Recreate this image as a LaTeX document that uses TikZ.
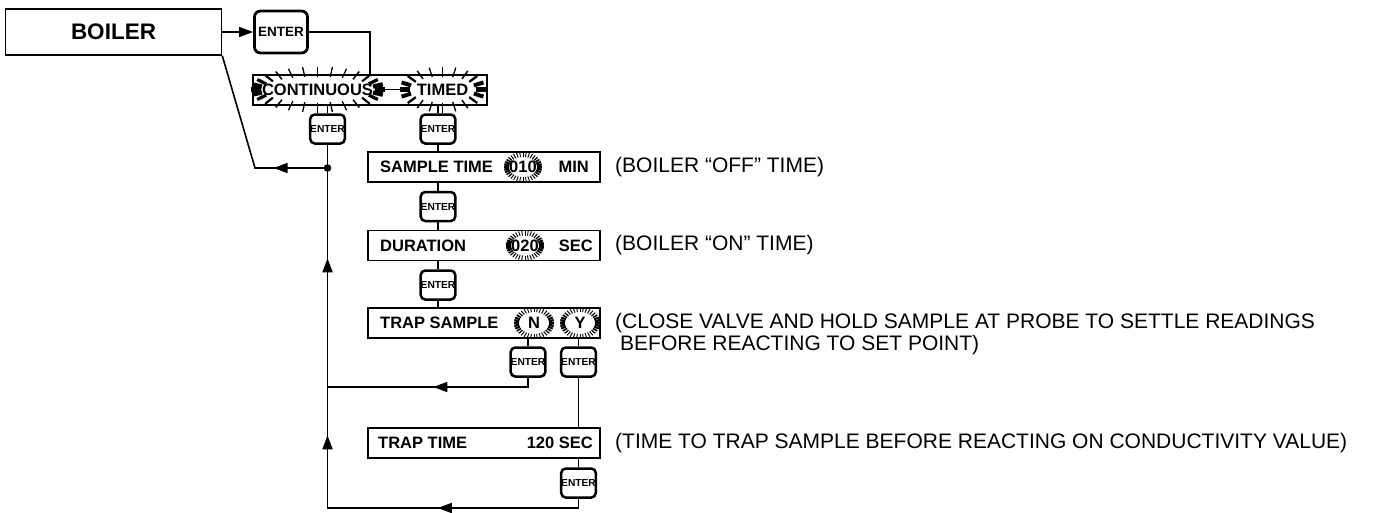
\documentclass[tikz,border=0pt]{standalone}
\usepackage{fontspec}
\setmainfont{Liberation Sans}
\usetikzlibrary{arrows.meta,calc,decorations.markings}
\newcommand{\flash}[7]{%
  \foreach \k in {1,...,#5}{%
    \pgfmathsetmacro{\flashang}{360*\k/#5}%
    \pgfmathsetmacro{\flashwd}{#7+#6*abs(cos(\flashang))^6}%
    \draw[line width=\flashwd pt] ($(#1)+({#2*cos(\flashang)},{#3*sin(\flashang)})$) -- ($(#1)+({(#2+#4)*cos(\flashang)},{(#3+#4)*sin(\flashang)})$);
  }}
\tikzset{
  lbl/.style={font=\fontsize{16.5}{18}\selectfont\bfseries, inner sep=0pt},
  note/.style={font=\fontsize{21}{22}\selectfont, inner sep=0pt, anchor=west},
  dispbox/.style={draw, line width=1.6pt, minimum width=232pt, minimum height=30pt, inner sep=0pt},
  bigenter/.style={draw, line width=2.8pt, rounded corners=6pt, minimum width=53pt, minimum height=42pt, font=\fontsize{13.5}{14}\selectfont\bfseries, inner sep=0pt},
  smallenter/.style={draw, line width=2.5pt, rounded corners=4.5pt, minimum width=33pt, minimum height=29pt, font=\fontsize{10.2}{11}\selectfont\bfseries, inner sep=0pt},
  wire/.style={line width=1.6pt},
  tip/.style={-{Triangle[length=14pt,width=10pt]}},
  arrowat/.style={postaction={decorate, decoration={markings, mark=at position #1 with {\arrow{Triangle[length=14pt,width=10pt]}}}}}
}
\begin{document}
\begin{tikzpicture}[x=1pt,y=-1pt]
\useasboundingbox (0,0) rectangle (1375,512);

% top row
\node[draw, line width=1.6pt, minimum width=216pt, minimum height=46pt, inner sep=0pt, font=\fontsize{22.5}{24}\selectfont\bfseries] (boiler) at (113.5,32) {BOILER};
\node[bigenter] (enter0) at (281,32) {ENTER};
\draw[wire, tip] (boiler.east) -- (enter0.west);

% selection bar
\node[draw, line width=1.5pt, minimum width=234pt, minimum height=30pt, inner sep=0pt] (bar) at (370,90) {};
\coordinate (barin) at (370,75);
\draw[wire] (enter0.east) -| (barin);
\node[lbl] (cont) at (317.5,89.5) {CONTINUOUS};
\node[lbl] (timed) at (442.5,89.5) {TIMED};
\flash{cont}{57}{13}{10}{28}{3.6}{1.3}
\flash{timed}{33}{13}{10}{20}{3.6}{1.3}
\draw[wire] ($(cont)+(67,0)$) -- ($(timed)+(-43,0)$);

% enter keys under bar
\node[smallenter] (en1) at (327.5,129) {ENTER};
\node[smallenter] (en2) at (438,129) {ENTER};
\draw[wire] (en1.north) -- (en1.north |- bar.south);
\draw[wire] (en2.north) -- (en2.north |- bar.south);

% sample time
\node[dispbox] (st) at (484,167) {};
\node[lbl, anchor=west] (stl) at (380,167) {SAMPLE TIME};
\node[lbl] (v010) at (523,167) {010};
\flash{v010}{14}{10}{5}{36}{1.6}{0.9}
\node[lbl, anchor=east] (stu) at (589,167) {MIN};
\draw[wire] (en2.south) -- (en2.south |- st.north);

\node[smallenter] (en3) at (438,206.5) {ENTER};
\draw[wire] (en3.north) -- (en3.north |- st.south);

% duration
\node[dispbox] (du) at (484,245.5) {};
\node[lbl, anchor=west] (dul) at (380,245.5) {DURATION};
\node[lbl] (v020) at (525,245.5) {020};
\flash{v020}{14}{10}{5}{36}{1.6}{0.9}
\node[lbl, anchor=east] (duu) at (593,245.5) {SEC};
\draw[wire] (en3.south) -- (en3.south |- du.north);

\node[smallenter] (en4) at (438,285) {ENTER};
\draw[wire] (en4.north) -- (en4.north |- du.south);

% trap sample
\node[dispbox] (ts) at (484,323) {};
\node[lbl, anchor=west] (tsl) at (380,323) {TRAP SAMPLE};
\node[lbl] (vn) at (534,323) {N};
\node[lbl] (vy) at (580,323) {Y};
\flash{vn}{15}{11}{5}{36}{1.6}{0.9}
\flash{vy}{15}{11}{5}{36}{1.6}{0.9}
\draw[wire] (en4.south) -- (en4.south |- ts.north);

\node[smallenter] (en5) at (528,362) {ENTER};
\node[smallenter] (en6) at (578.5,362) {ENTER};
\draw[wire] (en5.north) -- (en5.north |- ts.south);
\draw[wire] (en6.north) -- (en6.north |- ts.south);

% trap time
\node[dispbox] (tt) at (484,443) {};
\node[lbl, anchor=west] (ttl) at (378,443) {TRAP TIME};
\node[lbl, anchor=east] (ttu) at (593,443) {120 SEC};
\draw[wire] (en6.south) -- (en6.south |- tt.north);

\node[smallenter] (en7) at (578.5,483) {ENTER};
\draw[wire] (en7.north) -- (en7.north |- tt.south);

% return lines
\coordinate (jn) at (327.5,168);
\coordinate (lb) at (255,168);
\coordinate (nb) at (528,387);
\coordinate (nl) at (327.5,387);
\coordinate (bb) at (578.5,508);
\coordinate (bl) at (327.5,508);
\draw[wire] (en1.south) -- (jn);
\fill (jn) circle (3.8pt);
\draw[wire, arrowat=54pt] (jn) -- (lb) -- (boiler.south east);
\draw[wire, arrowat=104pt] (en5.south) -- (nb) -- (nl);
\draw[wire, arrowat=150pt, arrowat=333pt, arrowat=510pt] (en7.south) -- (bb) -- (bl) -- (jn);

% notes
\node[note] (n1) at (615,167) {(BOILER “OFF” TIME)};
\node[note] (n2) at (615,245.5) {(BOILER “ON” TIME)};
\node[note] (n3) at (615,323) {(CLOSE VALVE AND HOLD SAMPLE AT PROBE TO SETTLE READINGS};
\node[note] (n3b) at (620,345) {BEFORE REACTING TO SET POINT)};
\node[note] (n4) at (615,443) {(TIME TO TRAP SAMPLE BEFORE REACTING ON CONDUCTIVITY VALUE)};
\end{tikzpicture}
\end{document}
